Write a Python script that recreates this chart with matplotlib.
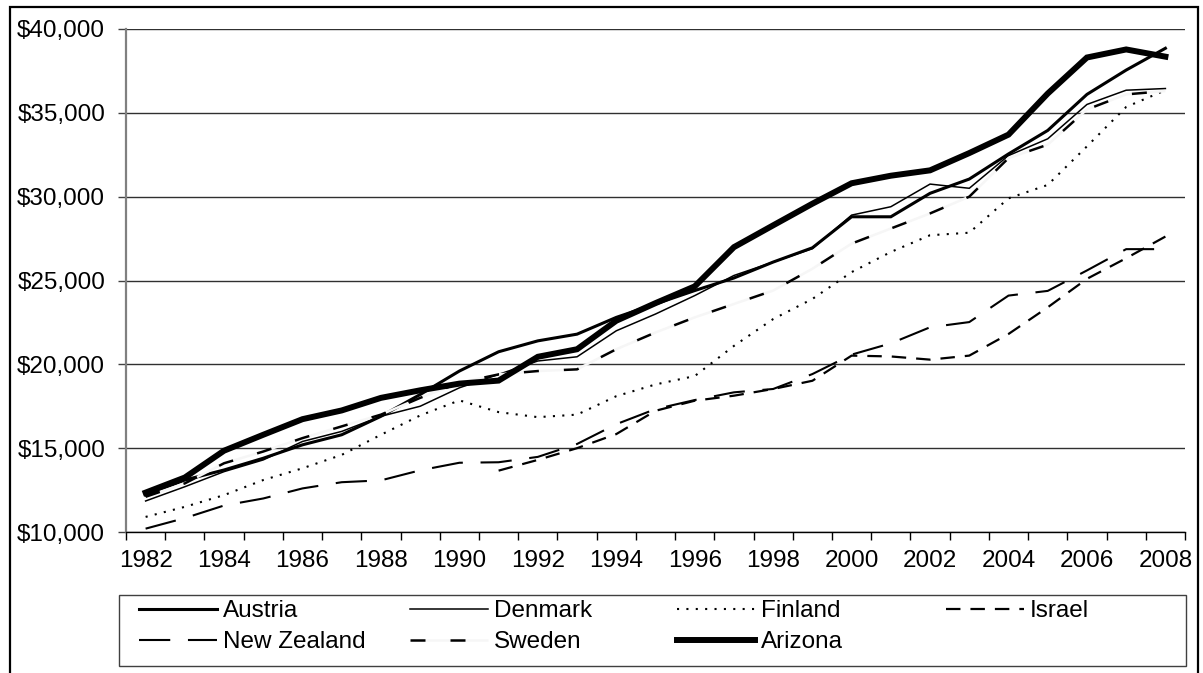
import numpy as np
import matplotlib
matplotlib.use("Agg")
import matplotlib.pyplot as plt
from matplotlib.patches import Rectangle
from matplotlib.ticker import FixedLocator, FuncFormatter

plt.rcParams['font.family'] = ['Liberation Sans', 'DejaVu Sans']

years = list(range(1982, 2009))

austria = [12200, 13100, 13700, 14400, 15200, 15800, 16900, 18200, 19600, 20750,
           21400, 21800, 22800, 23600, 24400, 25150, 26100, 26950, 28800, 28800,
           30200, 31050, 32550, 33950, 36100, 37550, 38850]
denmark = [11850, 12700, 13600, 14300, 15400, 16000, 16900, 17500, 18600, 19400,
           20200, 20450, 22000, 23000, 24100, 25300, 26100, 26900, 28900, 29400,
           30750, 30500, 32450, 33450, 35500, 36350, 36450]
finland = [10900, 11500, 12200, 13100, 13800, 14600, 15800, 16950, 17850, 17150,
           16850, 17000, 18100, 18800, 19300, 21100, 22700, 23900, 25500, 26700,
           27700, 27850, 29900, 30700, 33000, 35350, 36350]
israel = [np.nan] * 9 + [13660, 14300, 15000, 15840, 17230, 17830, 18130, 18530, 19020,
                         20520, 20470, 20280, 20520, 21810, 23400, 25100, 26330, 27620]
new_zealand = [10200, 10830, 11580, 12000, 12600, 12970, 13080, 13680, 14130, 14160,
               14480, 15250, 16430, 17330, 17870, 18330, 18530, 19420, 20580, 21250,
               22210, 22520, 24100, 24380, 25600, 26870, 26870]
sweden = [12100, 12900, 14100, 14800, 15600, 16300, 17000, 18000, 18900, 19400,
          19600, 19700, 20900, 21900, 22800, 23600, 24400, 25700, 27200, 28100,
          29000, 30000, 32300, 33100, 35200, 36100, 36300]
arizona = [12350, 13250, 14850, 15800, 16730, 17250, 18000, 18450, 18850, 19030,
           20450, 20900, 22600, 23650, 24650, 26990, 28290, 29580, 30800, 31250,
           31570, 32600, 33700, 36150, 38300, 38780, 38350]

y_ticks = [10000, 15000, 20000, 25000, 30000, 35000, 40000]

W, H = 1203, 673
fig = plt.figure(figsize=(W / 100, H / 100), dpi=100)
fig.patch.set_facecolor('white')

L, R, T, B = 126, 1185, 29, 532
ax = fig.add_axes([L / W, 1 - B / H, (R - L) / W, (B - T) / H])

x = np.arange(len(years))
FS = 17.5

styles = [
    ('Austria', austria, dict(color='black', lw=2.2, linestyle='-')),
    ('Denmark', denmark, dict(color='black', lw=1.1, linestyle='-')),
    ('Finland', finland, dict(color='black', lw=1.5, linestyle=(0, (1, 3.5)))),
    ('Israel', israel, dict(color='black', lw=1.6, linestyle=(0, (6.5, 4.5)))),
    ('New Zealand', new_zealand, dict(color='black', lw=1.5, linestyle=(0, (15, 8.5)))),
    ('Sweden', sweden, dict(color='black', lw=1.8, linestyle=(0, (6, 10)), gapcolor='#f6f6f6')),
    ('Arizona', arizona, dict(color='black', lw=4.3, linestyle='-')),
]
handles = {}
for name, vals, st in styles:
    ln, = ax.plot(x, vals, label=name, solid_joinstyle='miter', **st)
    handles[name] = ln

ax.set_xlim(-0.5, len(years) - 0.5)
ax.set_ylim(y_ticks[0], y_ticks[-1])
ax.set_yticks(y_ticks)
ax.yaxis.set_major_formatter(FuncFormatter(lambda v, p: f"${v:,.0f}"))
ax.grid(axis='y', color='#303030', lw=1.0)
ax.set_axisbelow(True)

ax.xaxis.set_major_locator(FixedLocator(np.arange(-0.5, len(years), 1.0)))
ax.xaxis.set_major_formatter(FuncFormatter(lambda v, p: ''))
ax.xaxis.set_minor_locator(FixedLocator(x[::2]))
ax.set_xticks(x[::2], [str(y) for y in years[::2]], minor=True)
ax.tick_params(axis='x', which='major', direction='out', length=6, width=1, color='black')
ax.tick_params(axis='x', which='minor', length=0, pad=13, labelsize=FS)
ax.tick_params(axis='y', direction='out', length=6, width=1, color='#404040', pad=9, labelsize=FS)

for s in ['top', 'right']:
    ax.spines[s].set_visible(False)
ax.spines['left'].set_color('#808080')
ax.spines['left'].set_linewidth(1.6)
ax.spines['bottom'].set_color('black')
ax.spines['bottom'].set_linewidth(1.0)

# legend box
fig.patches.append(Rectangle((119 / W, 1 - 666 / H), (1186 - 119) / W, (666 - 595) / H,
                             transform=fig.transFigure, fill=False, edgecolor='#404040', lw=1.0))
# outer chart border
fig.patches.append(Rectangle((10 / W, -0.05), (1198 - 10) / W, (1 - 7 / H) + 0.05,
                             transform=fig.transFigure, fill=False, edgecolor='black', lw=1.6,
                             clip_on=False))

cols = [(['Austria', 'New Zealand'], 139), (['Denmark', 'Sweden'], 410),
        (['Finland', 'Arizona'], 677), (['Israel'], 946)]
for names, xs in cols:
    leg = fig.legend([handles[n] for n in names], names, loc='upper left',
                     bbox_to_anchor=(xs / W, 1 - 600 / H), bbox_transform=fig.transFigure,
                     frameon=False, fontsize=FS, borderpad=0, borderaxespad=0,
                     handlelength=3.2, handletextpad=0.25, labelspacing=0.38)

fig.savefig('out.png', dpi=100, facecolor='white')
